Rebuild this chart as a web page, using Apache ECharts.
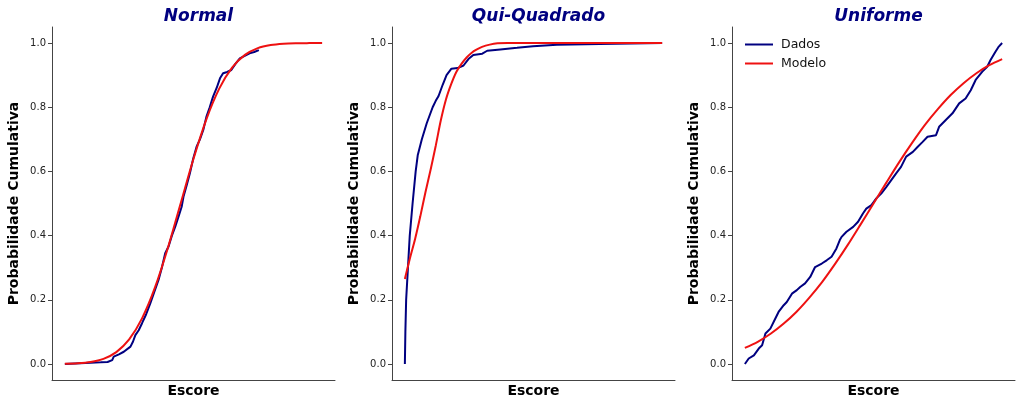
<!DOCTYPE html>
<html>
<head>
<meta charset="utf-8">
<script src="https://cdn.jsdelivr.net/npm/echarts@6/dist/echarts.min.js"></script>
<style>html,body{margin:0;padding:0;background:#fff;}#c{width:1024px;height:406px;}</style>
</head>
<body>
<div id="c"></div>
<script>
// Panel titles
const titles = ['Normal', 'Qui-Quadrado', 'Uniforme'];
const yTicks = [0, 0.2, 0.4, 0.6, 0.8, 1.0];

// Normal panel: [escore (normalised 0-100), probabilidade]
const normalDados = [[0,0],[8,0.003],[13.9,0.005],[16.6,0.006],[18.4,0.012],[19.0,0.023],[21,0.03],[22.9,0.038],[25.5,0.054],[26.5,0.07],[27.4,0.09],[28.7,0.105],[30.0,0.127],[31.6,0.155],[33.2,0.189],[34.8,0.225],[36.4,0.262],[37.7,0.30],[39.0,0.345],[40.3,0.366],[41.6,0.40],[42.9,0.428],[44.2,0.46],[45.4,0.49],[46.1,0.521],[47.3,0.555],[48.6,0.594],[49.9,0.64],[51.2,0.677],[52.5,0.70],[53.8,0.729],[55.0,0.77],[56.3,0.80],[57.6,0.833],[59.0,0.86],[60.3,0.89],[61.5,0.906],[63.1,0.91],[64.7,0.916],[66.3,0.935],[68.0,0.952],[69.9,0.96],[71.8,0.968],[73.6,0.972],[75.4,0.978]];
const normalModelo = [[0,0.00065],[5,0.0021],[10,0.0062],[15,0.016],[20,0.037],[25,0.0766],[30,0.142],[35,0.2376],[40,0.3605],[45,0.5],[50,0.6395],[55,0.7624],[60,0.858],[65,0.9234],[70,0.963],[75,0.984],[80,0.9938],[85,0.9979],[90,0.99935],[95,0.9998],[100,1.0]];

// Qui-Quadrado panel
const quiDados = [[0,0],[0.2,0.1],[0.5,0.2],[1.9,0.4],[3.0,0.5],[4.2,0.6],[5.0,0.65],[6.6,0.7],[8.5,0.75],[10.8,0.8],[12.0,0.82],[13.1,0.835],[14.7,0.87],[16.2,0.9],[18.1,0.92],[20.5,0.922],[22.8,0.93],[24.7,0.95],[26.6,0.963],[30.1,0.967],[32.0,0.976],[37.1,0.98],[43.6,0.985],[49.8,0.99],[59.1,0.995],[75.7,0.997],[100,1.0]];
const quiModelo = [[0,0.265],[2,0.33],[4,0.39],[6,0.46],[8,0.535],[10,0.605],[12,0.68],[14,0.76],[16,0.825],[18,0.872],[20,0.91],[22,0.935],[24,0.955],[26,0.97],[28,0.98],[30,0.988],[33,0.995],[36,0.999],[40,1.0],[50,1.0],[60,1.0],[70,1.0],[80,1.0],[90,1.0],[100,1.0]];

// Uniforme panel
const uniDados = [[0,0],[1.5,0.017],[3.5,0.027],[5.4,0.048],[6.7,0.058],[8.0,0.095],[9.9,0.11],[11.8,0.141],[13.1,0.162],[15.1,0.183],[16.3,0.193],[18.3,0.219],[20.2,0.23],[21.5,0.24],[23.4,0.251],[25.4,0.271],[27.3,0.302],[29.9,0.313],[31.8,0.323],[33.7,0.334],[35.6,0.36],[36.9,0.386],[37.6,0.396],[39.5,0.412],[42.1,0.427],[44.0,0.443],[45.9,0.469],[47.2,0.484],[49.2,0.495],[51.1,0.516],[53.0,0.531],[55.0,0.552],[56.9,0.573],[58.8,0.594],[60.7,0.614],[62.7,0.646],[65.3,0.661],[67.2,0.677],[69.1,0.692],[71.0,0.708],[74.3,0.713],[75.5,0.739],[78.1,0.76],[80.7,0.781],[83.3,0.812],[85.8,0.827],[87.8,0.853],[89.7,0.885],[92.3,0.911],[94.2,0.926],[95.5,0.947],[97.4,0.973],[98.7,0.989],[100,1.0]];
const uniModelo = [[0,0.05],[5,0.069],[10,0.094],[15,0.125],[20,0.162],[25,0.206],[30,0.255],[35,0.311],[40,0.371],[45,0.435],[50,0.5],[55,0.565],[60,0.629],[65,0.689],[70,0.745],[75,0.794],[80,0.838],[85,0.875],[90,0.906],[95,0.931],[100,0.95]];

const dadosList = [normalDados, quiDados, uniDados];
const modeloList = [normalModelo, quiModelo, uniModelo];

const NAVY = '#000080', RED = '#ee1111', AXIS = '#444';
const FONT = 'DejaVu Sans';
const lefts = [52, 392, 732];
const W = 283;

const grids = [], xAxes = [], yAxes = [], series = [], titleOpts = [];
lefts.forEach((l, i) => {
  grids.push({left: l, top: 27, width: W, height: 353});
  titleOpts.push({
    text: titles[i], left: l + W / 2, top: 3, textAlign: 'center',
    textStyle: {fontFamily: FONT, fontSize: 17, fontWeight: 'bold', fontStyle: 'italic', color: NAVY}
  });
  xAxes.push({
    type: 'value', gridIndex: i, min: -5, max: 105,
    name: 'Escore', nameLocation: 'middle', nameGap: 4,
    nameTextStyle: {fontFamily: FONT, fontSize: 14, fontWeight: 'bold', color: '#000', verticalAlign: 'top'},
    axisLine: {show: true, onZero: false, lineStyle: {color: AXIS, width: 1}},
    axisTick: {show: false}, axisLabel: {show: false}, splitLine: {show: false}
  });
  yAxes.push({
    type: 'value', gridIndex: i, min: -0.05, max: 1.05,
    name: 'Probabilidade Cumulativa', nameLocation: 'middle', nameGap: 31,
    nameTextStyle: {fontFamily: FONT, fontSize: 14, fontWeight: 'bold', color: '#000'},
    axisLine: {show: true, onZero: false, lineStyle: {color: AXIS, width: 1}},
    axisTick: {show: true, length: 4, customValues: yTicks, lineStyle: {color: AXIS}},
    axisLabel: {fontFamily: FONT, fontSize: 10, color: '#222', margin: 6, customValues: yTicks,
      formatter: v => v.toFixed(1)},
    splitLine: {show: false}
  });
  series.push({
    name: 'Dados', type: 'line', xAxisIndex: i, yAxisIndex: i, data: dadosList[i],
    symbol: 'none', lineStyle: {color: NAVY, width: 2}, itemStyle: {color: NAVY}, z: 2
  });
  series.push({
    name: 'Modelo', type: 'line', xAxisIndex: i, yAxisIndex: i, data: modeloList[i],
    symbol: 'none', smooth: 0.3, lineStyle: {color: RED, width: 2}, itemStyle: {color: RED}, z: 3
  });
});

const chart = echarts.init(document.getElementById('c'), null, {renderer: 'canvas'});
chart.setOption({
  animation: false,
  backgroundColor: '#fff',
  title: titleOpts,
  grid: grids,
  xAxis: xAxes,
  yAxis: yAxes,
  legend: {
    data: ['Dados', 'Modelo'], orient: 'vertical', left: 740, top: 33,
    icon: 'rect', itemWidth: 28, itemHeight: 2, itemGap: 6,
    textStyle: {fontFamily: FONT, fontSize: 12.5, color: '#111', padding: [0, 0, 0, 3]}
  },
  series: series
});
</script>
</body>
</html>
